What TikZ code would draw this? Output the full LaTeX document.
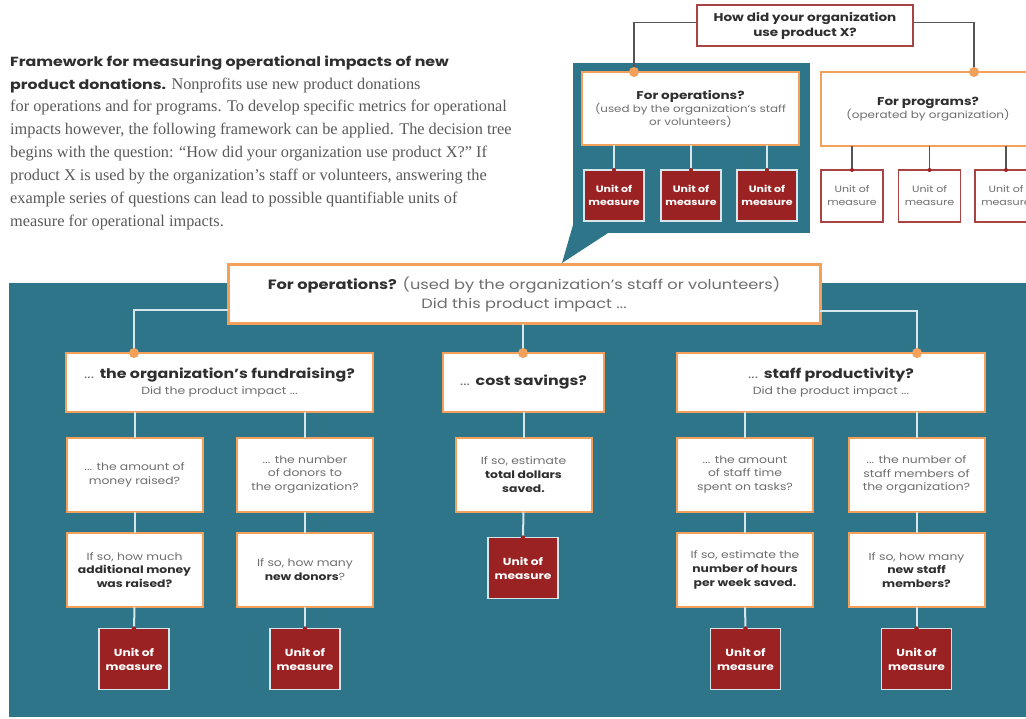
\documentclass[tikz,border=0pt]{standalone}
\usepackage{fontspec}
\setmainfont{Liberation Serif}
\newfontfamily\gothic[FakeStretch=1.2]{Poppins}
\definecolor{tealC}{HTML}{2E7589}
\definecolor{redC}{HTML}{9B2222}
\definecolor{orangeC}{HTML}{F3A05A}
\definecolor{boxredC}{HTML}{A84444}
\definecolor{greyT}{HTML}{6E6E6E}
\definecolor{darkT}{HTML}{2F2F2F}
\definecolor{paleC}{HTML}{D5E6EC}
\definecolor{darkL}{HTML}{555555}
\definecolor{serifT}{HTML}{5A5A5A}
\tikzset{
  obox/.style={draw=orangeC, line width=2pt, fill=white, inner sep=0pt, outer sep=0pt, align=center, text=greyT},
  unitbox/.style={fill=redC, draw=paleC, line width=1.2pt, inner sep=0pt, outer sep=0pt, align=center, text=white,
     minimum width=70pt, minimum height=61pt, font=\gothic\fontsize{10.2}{14}\selectfont\bfseries},
  sunit/.style={unitbox, minimum width=60pt, minimum height=51pt, font=\gothic\fontsize{9.2}{13}\selectfont\bfseries},
  punit/.style={fill=white, draw=boxredC, line width=1.5pt, inner sep=0pt, outer sep=0pt, align=center, text=greyT,
     minimum width=62pt, minimum height=52pt, font=\gothic\fontsize{9.2}{13}\selectfont},
  lightline/.style={draw=paleC, line width=2pt},
  darkline/.style={draw=darkL, line width=1.5pt},
  l3/.style={obox, minimum width=136pt, minimum height=74pt, font=\gothic\fontsize{10.3}{13.8}\selectfont},
  l2/.style={obox, minimum height=59pt, font=\gothic\fontsize{13.2}{16}\selectfont},
  ptext/.style={anchor=west, inner sep=0pt, text=serifT, font=\fontsize{16.3}{18}\selectfont},
  dotO/.style={fill=orangeC},
  dotR/.style={fill=redC}
}
\begin{document}
\begin{tikzpicture}[x=1pt,y=-1pt]
\useasboundingbox (0,0) rectangle (1026,719);
\fill[white] (0,0) rectangle (1026,719);

% ---------- paragraph ----------
\node[ptext, text=darkT, font=\gothic\bfseries\fontsize{13.2}{16}\selectfont] (h1) at (10,63) {Framework for measuring operational impacts of new};
\node[ptext] (h2) at (10,86) {{\gothic\bfseries\fontsize{13.2}{16}\selectfont\color{darkT}product donations.} Nonprofits use new product donations};
\node[ptext] (p3) at (10,108) {for operations and for programs. To develop specific metrics for operational};
\node[ptext] (p4) at (10,131) {impacts however, the following framework can be applied. The decision tree};
\node[ptext] (p5) at (10,154) {begins with the question: “How did your organization use product X?” If};
\node[ptext] (p6) at (10,177) {product X is used by the organization’s staff or volunteers, answering the};
\node[ptext] (p7) at (10,199) {example series of questions can lead to possible quantifiable units of};
\node[ptext] (p8) at (10,222) {measure for operational impacts.};

% ---------- top right small tree ----------
\fill[tealC] (573,63) rectangle (810,233);
\fill[tealC] (573,225) -- (562,263) -- (608,233) -- (573,233) -- cycle;

\node[draw=boxredC, line width=1.5pt, fill=white, inner sep=0pt, minimum width=216pt, minimum height=41pt, align=center,
      text=darkT, font=\gothic\bfseries\fontsize{11.3}{15}\selectfont] (q0) at (805,25.5) {How did your organization\\use product X?};

\node[obox, line width=1.5pt, minimum width=217pt, minimum height=73pt, font=\gothic\fontsize{9.9}{12.5}\selectfont] (opsS) at (690.5,108.5)
  {{\bfseries\fontsize{11.3}{13}\selectfont\color{darkT}For operations?}\\[1pt](used by the organization’s staff\\or volunteers)};
\node[obox, line width=1.2pt, minimum width=214pt, minimum height=74pt, font=\gothic\fontsize{10}{13}\selectfont] (progS) at (928,109)
  {{\bfseries\fontsize{11.3}{13}\selectfont\color{darkT}For programs?}\\(operated by organization)};

\coordinate (dops) at (634,72);
\coordinate (dprog) at (974,72);
\draw[darkline] ([yshift=3pt]q0.west) -| (dops);
\draw[darkline] ([yshift=3pt]q0.east) -| (dprog);
\fill[dotO] (dops) circle (5pt);
\fill[dotO] (dprog) circle (5pt);

\node[sunit] (su1) at (614,195.5) {Unit of\\measure};
\node[sunit] (su2) at (691,195.5) {Unit of\\measure};
\node[sunit] (su3) at (767,195.5) {Unit of\\measure};
\foreach \u in {su1,su2,su3}{
  \draw[lightline, line width=1.5pt] (\u.north) -- (\u.north |- opsS.south);
  \fill[dotR] (\u.north) circle (2pt);
}
\node[punit] (pu1) at (852,196) {Unit of\\measure};
\node[punit] (pu2) at (929.5,196) {Unit of\\measure};
\node[punit] (pu3) at (1006,196) {Unit of\\measure};
\foreach \u in {pu1,pu2,pu3}{
  \draw[darkline] (\u.north) -- (\u.north |- progS.south);
  \fill[dotR] (\u.north) circle (2pt);
}

% ---------- main panel ----------
\fill[tealC] (9,283) rectangle (1030,717);

\node[obox, line width=3pt, minimum width=592pt, minimum height=59pt, font=\gothic\fontsize{13.5}{19}\selectfont] (main) at (524,294.5)
  {{\bfseries\color{darkT}For operations?} (used by the organization’s staff or volunteers)\\Did this product impact ...};

% level 2
\node[l2, minimum width=307pt] (fund) at (219.5,382.5)
  {... {\bfseries\color{darkT}the organization’s fundraising?}\\{\fontsize{10.4}{12}\selectfont Did the product impact ...}};
\node[l2, minimum width=161pt] (cost) at (523.5,382.5)
  {... {\bfseries\color{darkT}cost savings?}};
\node[l2, minimum width=308pt] (staff) at (831,382.5)
  {... {\bfseries\color{darkT}staff productivity?}\\{\fontsize{10.4}{12}\selectfont Did the product impact ...}};

\coordinate (dfund) at (134,353);
\coordinate (dcost) at (523,353);
\coordinate (dstaff) at (917,353);
\draw[lightline] ([yshift=-16pt]main.west) -| (dfund);
\draw[lightline] ([yshift=-17pt]main.east) -| (dstaff);
\draw[lightline] (main.south -| dcost) -- (dcost);
\fill[dotO] (dfund) circle (5pt);
\fill[dotO] (dcost) circle (5pt);
\fill[dotO] (dstaff) circle (5pt);

% level 3
\node[l3] (a3) at (134.5,474.5) {... the amount of\\money raised?};
\node[l3] (b3) at (305,474.5) {... the number\\of donors to\\the organization?};
\node[l3] (c3) at (523.5,474.5) {If so, estimate\\{\bfseries\color{darkT}total dollars}\\{\bfseries\color{darkT}saved.}};
\node[l3] (d3) at (745,474.5) {... the amount\\of staff time\\spent on tasks?};
\node[l3] (e3) at (916.5,474.5) {... the number of\\staff members of\\the organization?};

% level 4
\node[l3] (a4) at (134.5,570) {If so, how much\\{\bfseries\color{darkT}additional money}\\{\bfseries\color{darkT}was raised?}};
\node[l3] (b4) at (305,570) {If so, how many\\{\bfseries\color{darkT}new donors}?};
\node[l3] (d4) at (745,570) {If so, estimate the\\{\bfseries\color{darkT}number of hours}\\{\bfseries\color{darkT}per week saved.}};
\node[l3] (e4) at (916.5,570) {If so, how many\\{\bfseries\color{darkT}new staff}\\{\bfseries\color{darkT}members?}};

% units
\node[unitbox] (ua) at (134,659) {Unit of\\measure};
\node[unitbox] (ub) at (305,659) {Unit of\\measure};
\node[unitbox] (uc) at (523,568) {Unit of\\measure};
\node[unitbox] (ud) at (745.5,659) {Unit of\\measure};
\node[unitbox] (ue) at (916.5,659) {Unit of\\measure};

% connectors
\draw[lightline] (a3.north) -- (a3.north |- fund.south);
\draw[lightline] (b3.north) -- (b3.north |- fund.south);
\draw[lightline] (c3.north) -- (c3.north |- cost.south);
\draw[lightline] (d3.north) -- (d3.north |- staff.south);
\draw[lightline] (e3.north) -- (e3.north |- staff.south);
\draw[lightline] (a3.south) -- (a4.north);
\draw[lightline] (b3.south) -- (b4.north);
\draw[lightline] (d3.south) -- (d4.north);
\draw[lightline] (e3.south) -- (e4.north);
\draw[lightline] (a4.south) -- (ua.north);
\draw[lightline] (b4.south) -- (ub.north);
\draw[lightline] (c3.south) -- (uc.north);
\draw[lightline] (d4.south) -- (ud.north);
\draw[lightline] (e4.south) -- (ue.north);
\foreach \u in {ua,ub,uc,ud,ue}{\fill[dotR] (\u.north) circle (2.2pt);}
\end{tikzpicture}
\end{document}
